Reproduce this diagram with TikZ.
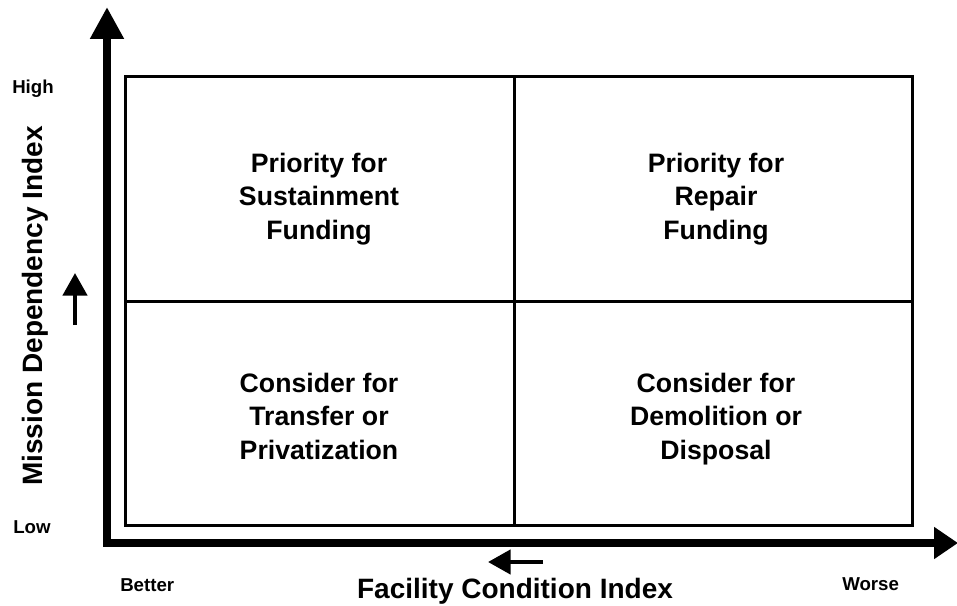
\documentclass[tikz,border=0pt]{standalone}
\usepackage{fontspec}
\setmainfont{Liberation Sans}
\usetikzlibrary{arrows.meta}
\begin{document}
\begin{tikzpicture}[x=0.75pt,y=-0.75pt,
  axis/.style={line width=6pt, line join=miter},
  gridline/.style={line width=2.25pt},
  quad/.style={align=center, font=\bfseries\fontsize{20}{25}\selectfont, inner sep=0pt, text depth=4.2pt},
  small/.style={font=\bfseries\fontsize{14}{16}\selectfont, inner sep=0pt},
  big/.style={font=\bfseries\fontsize{21}{25}\selectfont, inner sep=0pt},
  hint/.style={line width=3.5pt, -{Triangle[length=17pt,width=18pt]}}
]
\useasboundingbox (0,0) rectangle (957,606);
% axes
\coordinate (ytip) at (107,7);
\coordinate (origin) at (107,543);
\coordinate (xtip) at (958,543);
\draw[axis, {Triangle[length=24pt,width=24pt]}-{Triangle[length=18pt,width=23pt]}] (ytip) -- (origin) -- (xtip);
% grid
\coordinate (tl) at (125,77);
\coordinate (br) at (912,525);
\coordinate (mt) at (514,77);
\coordinate (mb) at (514,525);
\coordinate (ml) at (125,301);
\coordinate (mr) at (912,301);
\draw[gridline] (tl) rectangle (br);
\draw[gridline] (mt) -- (mb);
\draw[gridline] (ml) -- (mr);
% quadrant texts
\node[quad] (q1) at (319,199) {Priority for\\Sustainment\\Funding};
\node[quad] (q2) at (716,199) {Priority for\\Repair\\Funding};
\node[quad] (q3) at (319,419) {Consider for\\Transfer or\\Privatization};
\node[quad] (q4) at (716,419) {Consider for\\Demolition or\\Disposal};
% hint arrows
\coordinate (up0) at (75,325);
\coordinate (up1) at (75,273);
\draw[hint] (up0) -- (up1);
\coordinate (lf0) at (543,562);
\coordinate (lf1) at (488,562);
\draw[hint] (lf0) -- (lf1);
% labels
\node[small, anchor=base west] (high) at (12,94) {High};
\node[small, anchor=base west] (low) at (13,533) {Low};
\node[small, anchor=base west] (better) at (120,591) {Better};
\node[small, anchor=base west] (worse) at (842,590) {Worse};
\node[big, anchor=base] (fci) at (515,598) {Facility Condition Index};
\node[big, rotate=90, anchor=base] (mdi) at (42,306) {Mission Dependency Index};
\end{tikzpicture}
\end{document}
